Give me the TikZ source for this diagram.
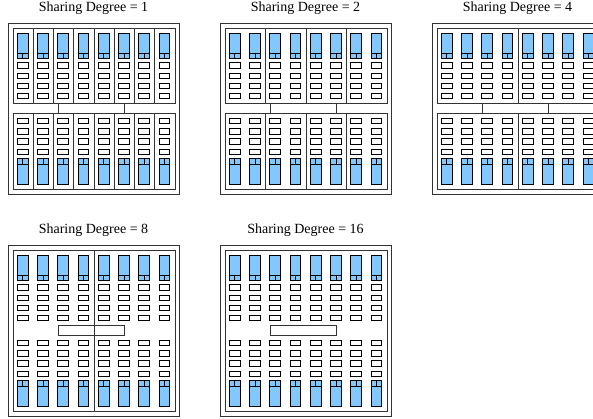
\documentclass[tikz,border=0pt]{standalone}
\usepackage{fontspec}
\setmainfont{Liberation Serif}
\usetikzlibrary{positioning}
\definecolor{cacheblue}{HTML}{82C8FF}

% one row of columns, drawn downwards from the edge of a panel
\newcommand{\corerow}{
  \foreach \c in {0,...,7} {
    \begin{scope}[shift={(9.3+20.25*\c,0)}]
      \draw[part, fill=cacheblue] (0,-10) rectangle (10.7,-30);
      \draw[part, fill=cacheblue] (0,-30) rectangle (5.35,-35.3);
      \draw[part, fill=cacheblue] (5.35,-30) rectangle (10.7,-35.3);
      \foreach \r in {39.7,49.9,60.1,70.3}
        \draw[part, fill=white] (0,-\r) rectangle (10.7,-\r-5.3);
    \end{scope}
  }
}
\newcommand{\bothrows}{
  \corerow
  \begin{scope}[yshift=-171*0.75pt, yscale=-1]
    \corerow
  \end{scope}
}

\begin{document}
\begin{tikzpicture}[x=0.75pt, y=0.75pt,
    part/.style={line width=0.6pt, draw=black},
    frame/.style={line width=0.7pt, draw=black!80},
    capt/.style={font=\fontsize{10.5}{12}\selectfont, inner sep=0pt},
    bank/.style={line width=0.7pt, draw=black!80, fill=white, minimum width=49.5pt, minimum height=7.6pt, inner sep=0pt}]

  \clip (0,0) rectangle (593,-418);

  \begin{scope}[shift={(8,-23)}]
    \node[capt] (captone) at (85.5,15) {Sharing Degree = 1};
    \draw[frame] (0,0) rectangle (171,-171);
    \foreach \c in {0,...,7} {
      \draw[frame] (5+20.25*\c,-5) rectangle (25.25+20.25*\c,-80.5);
      \draw[frame] (5+20.25*\c,-90.5) rectangle (25.25+20.25*\c,-166);
    }
    \node[bank] (bankone) at (83,-85.5) {};
    \bothrows
  \end{scope}

  \begin{scope}[shift={(220,-23)}]
    \node[capt] (capttwo) at (85.5,15) {Sharing Degree = 2};
    \draw[frame] (0,0) rectangle (171,-171);
    \foreach \c in {0,2,4,6} {
      \draw[frame] (5+20.25*\c,-5) rectangle (45.5+20.25*\c,-80.5);
      \draw[frame] (5+20.25*\c,-90.5) rectangle (45.5+20.25*\c,-166);
    }
    \node[bank] (banktwo) at (83,-85.5) {};
    \bothrows
  \end{scope}

  \begin{scope}[shift={(432,-23)}]
    \node[capt] (captfour) at (85.5,15) {Sharing Degree = 4};
    \draw[frame] (0,0) rectangle (171,-171);
    \foreach \c in {0,4} {
      \draw[frame] (5+20.25*\c,-5) rectangle (86+20.25*\c,-80.5);
      \draw[frame] (5+20.25*\c,-90.5) rectangle (86+20.25*\c,-166);
    }
    \node[bank] (bankfour) at (83,-85.5) {};
    \bothrows
  \end{scope}

  \begin{scope}[shift={(8,-245)}]
    \node[capt] (capteight) at (85.5,15) {Sharing Degree = 8};
    \draw[frame] (0,0) rectangle (171,-171);
    \node[bank] (bankeight) at (83,-85.5) {};
    \foreach \c in {0,4}
      \draw[frame] (5+20.25*\c,-5) rectangle (86+20.25*\c,-166);
    \bothrows
  \end{scope}

  \begin{scope}[shift={(220,-245)}]
    \node[capt] (captsixteen) at (85.5,15) {Sharing Degree = 16};
    \draw[frame] (0,0) rectangle (171,-171);
    \draw[frame] (5,-5) rectangle (167,-166);
    \node[bank] (banksixteen) at (83,-85.5) {};
    \bothrows
  \end{scope}

\end{tikzpicture}
\end{document}
